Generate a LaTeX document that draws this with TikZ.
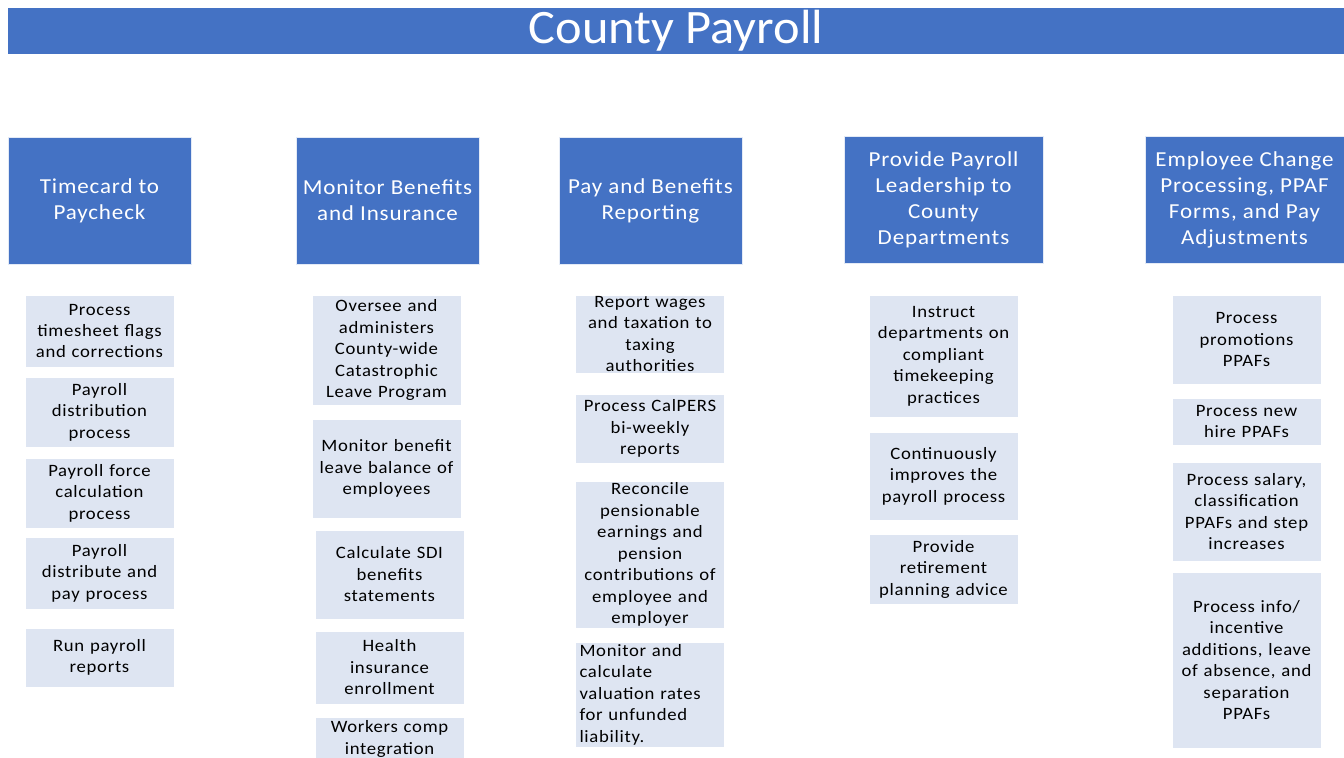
\documentclass[tikz,border=0pt]{standalone}
\usepackage{fontspec}
\setmainfont{Carlito}[FakeStretch=1.08, LetterSpace=4]
\newfontfamily\bannerfont{Carlito}[FakeStretch=1.05]
\usetikzlibrary{positioning}
\definecolor{headblue}{HTML}{4472C4}
\definecolor{tasktint}{HTML}{DEE5F2}
\tikzset{
banner/.style={
	  fill=headblue, text=white, inner sep=0pt,
	    minimum width=1002pt, minimum height=34.5pt,
    font=\bannerfont\fontsize{36}{40}\selectfont},
head/.style={
	  fill=headblue, draw=white!85!headblue, line width=0.6pt, text=white,
	    inner sep=0pt, minimum width=137.25pt, minimum height=95.25pt,
    align=center, font=\fontsize{16}{19.5}\selectfont},
task/.style={
	  fill=tasktint, draw=white, line width=0.4pt, inner xsep=3pt, inner ysep=0pt,
	    text width=105.75pt, align=center,
    font=\fontsize{13}{16.1}\selectfont}
}

\begin{document}
\begin{tikzpicture}[x=0.75pt, y=-0.75pt]
	\useasboundingbox (0,0) rectangle (1344,757);
	\clip (0,0) rectangle (1344,757);
	\node[banner] (title) at (676,31) {County Payroll};
	\node[head] (timecard) at (99.5,200.5) {Timecard to\\Paycheck};
	\node[head] (benefits) at (387.5,200.5) {Monitor Benefits\\and Insurance};
	\node[head] (reporting) at (650.5,200.5) {Pay and Benefits\\Reporting};
	\node[head, minimum width=149.25pt] (leadership) at (943.5,199.5) {Provide Payroll\\Leadership to\\County\\Departments};
	\node[head, minimum width=149.25pt] (changes) at (1244.5,200) {Employee Change\\Processing, PPAF\\Forms, and Pay\\Adjustments};
	\node[task, minimum height=54pt] (flags) at (99.5,331) {Process\\timesheet flags\\and corrections};
	\node[task, minimum height=52.5pt] (distribution) at (99.5,412) {Payroll\\distribution\\process};
	\node[task, minimum height=52.5pt] (force) at (99.5,493) {Payroll force\\calculation\\process};
	\node[task, minimum height=54pt] (paypro) at (99.5,573) {Payroll\\distribute and\\pay process};
	\node[task, minimum height=44.25pt] (runrep) at (99.5,657.5) {Run payroll\\reports};
	\node[task, minimum height=82.5pt] (catleave) at (386.5,350) {Oversee and\\administers\\County-wide\\Catastrophic\\Leave Program};
	\node[task, minimum height=74.25pt] (balance) at (386.5,468.5) {Monitor benefit\\leave balance of\\employees};
	\node[task, minimum height=66.75pt] (sdi) at (389.5,574.5) {Calculate SDI\\benefits\\statements};
	\node[task, minimum height=54.75pt] (health) at (389.5,667.5) {Health\\insurance\\enrollment};
	\node[task, minimum height=33pt] (workcomp) at (389.5,739) {Workers comp\\integration};
	\node[task, minimum height=58.5pt] (wages) at (650,334) {Report wages\\and taxation to\\taxing\\authorities};
	\node[task, minimum height=51.75pt] (calpers) at (650,428.5) {Process CalPERS\\bi-weekly\\reports};
	\node[task, minimum height=110.25pt] (reconcile) at (650,554.5) {Reconcile\\pensionable\\earnings and\\pension\\contributions of\\employee and\\employer};
	\node[task, minimum height=78.75pt, align=left] (valuation) at (650,694.5) {Monitor and\\calculate\\valuation rates\\for unfunded\\liability.};
	\node[task, minimum height=91.5pt] (instruct) at (943.5,356) {Instruct\\departments on\\compliant\\timekeeping\\practices};
	\node[task, minimum height=66pt] (improve) at (943.5,476) {Continuously\\improves the\\payroll process};
	\node[task, minimum height=52.5pt] (retire) at (943.5,569) {Provide\\retirement\\planning advice};
	\node[task, minimum height=66.75pt] (promo) at (1246.5,339.5) {Process\\promotions\\PPAFs};
	\node[task, minimum height=35.25pt] (newhire) at (1246.5,421.5) {Process new\\hire PPAFs};
	\node[task, minimum height=74.25pt] (salary) at (1246.5,511.5) {Process salary,\\classification\\PPAFs and step\\increases};
	\node[task, minimum height=132pt] (separation) at (1246.5,660) {Process info/\\incentive\\additions, leave\\of absence, and\\separation\\PPAFs};
\end{tikzpicture}
\end{document}
